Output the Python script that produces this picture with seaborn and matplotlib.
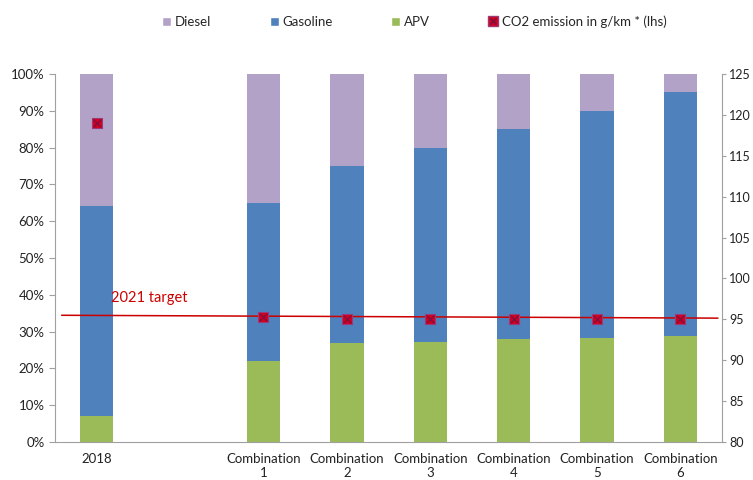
import numpy as np
import pandas as pd
import matplotlib.pyplot as plt
import seaborn as sns
from matplotlib.patches import Patch
from matplotlib.lines import Line2D

categories = ["2018", "", "Combination\n1", "Combination\n2", "Combination\n3",
              "Combination\n4", "Combination\n5", "Combination\n6"]
apv = [7, 0, 22, 27, 27.3, 28, 28.3, 28.7]
gasoline = [57, 0, 43, 48, 52.7, 57, 61.7, 66.3]
diesel = [36, 0, 35, 25, 20, 15, 10, 5]
co2 = [119, np.nan, 95.3, 95, 95, 95, 95, 95]
target_x = [-0.42, 7.45]
target_y = [95.5, 95.15]

sns.set_style("white")
plt.rcParams["font.family"] = ["Lato", "DejaVu Sans"]

df = pd.DataFrame({"cat": categories, "apv": apv, "gas": gasoline, "diesel": diesel})
df["gas_top"] = df["apv"] + df["gas"]
df["total"] = df["gas_top"] + df["diesel"]

fig = plt.figure(figsize=(7.53, 4.8), dpi=100)
ax = fig.add_axes([0.073, 0.079, 0.886, 0.767])

c_diesel, c_gas, c_apv, c_red = "#b3a2c7", "#4f81bd", "#9bbb59", "#cc0000"
kw = dict(x="cat", order=categories, width=0.4, linewidth=0, ax=ax)
# stacked bars: draw cumulative totals, tallest first
sns.barplot(data=df, y="total", color=c_diesel, saturation=1, **kw)
sns.barplot(data=df, y="gas_top", color=c_gas, saturation=1, **kw)
sns.barplot(data=df, y="apv", color=c_apv, saturation=1, **kw)

ax.set_xlim(-0.5, 7.5)
ax.set_ylim(0, 100)
ax.set_yticks(range(0, 101, 10))
ax.set_yticklabels([f"{v}%" for v in range(0, 101, 10)])
ax.set_xlabel("")
ax.set_ylabel("")
ax.set_xticks(np.arange(len(categories)))
ax.set_xticklabels(categories)
ax.set_xticks(np.arange(-0.5, 7.6, 1), minor=True)
ax.tick_params(axis="x", which="major", length=0, pad=8, labelsize=9.5, colors="#222222")
ax.tick_params(axis="x", which="minor", length=4, color="#a0a0a0", direction="out")
ax.tick_params(axis="y", length=4, color="#a0a0a0", direction="out", labelsize=9.5, colors="#222222")
for s in ["top", "right"]:
    ax.spines[s].set_visible(False)
for s in ["left", "bottom"]:
    ax.spines[s].set_color("#a0a0a0")

# CO2 on secondary axis
ax2 = ax.twinx()
ax2.set_ylim(80, 125)
ax2.set_yticks(range(80, 126, 5))
ax2.tick_params(axis="y", length=3, pad=2, color="#a0a0a0", direction="out", labelsize=9, colors="#222222")
for s in ["top", "left", "bottom"]:
    ax2.spines[s].set_visible(False)
ax2.spines["right"].set_color("#a0a0a0")

ax2.plot(target_x, target_y, color=c_red, lw=1.1, zorder=3)
ax2.text(0.17, 97.1, "2021 target", color=c_red, fontsize=10.5, zorder=4)

xpos = np.arange(len(categories))
sns.scatterplot(x=xpos, y=co2, marker="s", s=55, color="#d2001e", edgecolor="#9a3a78",
                linewidth=0.8, ax=ax2, zorder=5)
sns.scatterplot(x=xpos, y=co2, marker="x", s=30, color="#7a1040", linewidth=0.9, ax=ax2, zorder=6)

handles = [
    Patch(facecolor=c_diesel, label="Diesel"),
    Patch(facecolor=c_gas, label="Gasoline"),
    Patch(facecolor=c_apv, label="APV"),
    (Line2D([], [], marker="s", color="none", markerfacecolor="#d2001e", markeredgecolor="#9a3a78", markersize=7),
     Line2D([], [], marker="x", color="none", markeredgecolor="#7a1040", markersize=5)),
]
labels = ["Diesel", "Gasoline", "APV", "CO2 emission in g/km * (lhs)"]
fig.legend(handles, labels, loc="upper center", bbox_to_anchor=(0.55, 0.993), ncol=4, frameon=False,
           fontsize=9.5, handlelength=0.7, handleheight=0.7, handletextpad=0.3, columnspacing=4.4)

fig.savefig("out.png", dpi=100)
